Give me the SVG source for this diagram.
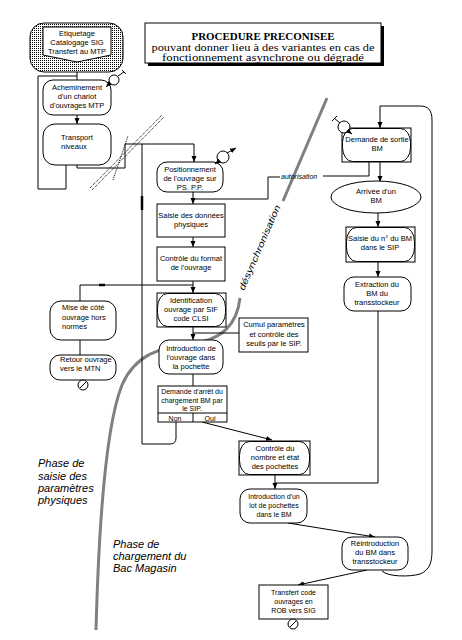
<svg xmlns="http://www.w3.org/2000/svg" width="462" height="640" viewBox="0 0 462 640">
<defs>
<style>
.n{fill:#fff;stroke:#000;stroke-width:1}
.o{fill:none;stroke:#000;stroke-width:1}
.c{fill:none;stroke:#000;stroke-width:1}
.t{font-family:"Liberation Sans",Arial,sans-serif;font-size:7.5px;text-anchor:middle;fill:#000}
.s{font-size:7px}
.l{text-anchor:start}
.ti{font-family:"Liberation Serif","Times New Roman",serif;font-size:9.5px;text-anchor:middle;fill:#000}
.ph{font-family:"Liberation Sans",Arial,sans-serif;font-size:11px;font-style:italic;fill:#000}
.h{fill:none;stroke:#808080;stroke-width:3}
.d{fill:none;stroke:#000;stroke-width:1;stroke-dasharray:1 1}
</style>
<pattern id="dot" width="2" height="2" patternUnits="userSpaceOnUse"><rect width="2" height="2" fill="#fff"/><rect width="1" height="1" fill="#000"/></pattern>
<marker id="a" markerWidth="6" markerHeight="6" refX="6" refY="3" orient="auto" markerUnits="userSpaceOnUse"><path d="M0,0.5 L6,3 L0,5.5 z" fill="#000"/></marker>
</defs>
<rect width="462" height="640" fill="#fff"/>

<!-- title -->
<g id="title">
<rect x="148" y="26" width="236" height="40" fill="#000"/>
<rect x="145" y="23" width="236" height="40" class="n"/>
<text class="ti" x="263" y="40" style="font-weight:bold" textLength="143" lengthAdjust="spacingAndGlyphs">PROCEDURE PRECONISEE</text>
<text class="ti" x="263" y="50.5" textLength="223" lengthAdjust="spacingAndGlyphs">pouvant donner lieu à des variantes en cas de</text>
<text class="ti" x="263" y="61" textLength="202" lengthAdjust="spacingAndGlyphs">fonctionnement asynchrone ou dégradé</text>
</g>

<!-- phase boundaries -->
<g id="phases">
<line x1="327" y1="98" x2="283" y2="201" class="h"/>
<text transform="translate(244,291) rotate(-66.5)" style="font-family:'Liberation Sans',Arial,sans-serif;font-size:9px;font-style:italic" textLength="92" lengthAdjust="spacingAndGlyphs">désynchronisation</text>
<path d="M240,298 C237,325 222,340 190,344 C160,347 135,355 122,385 C110,415 100,480 96,630" class="h"/>
<line x1="90" y1="188" x2="162" y2="115" class="d"/>
<line x1="92" y1="190" x2="164" y2="117" class="d"/>
<line x1="113" y1="180" x2="128" y2="136" class="d"/>
<text class="ph" x="38" y="467">Phase de</text>
<text class="ph" x="38" y="480">saisie des</text>
<text class="ph" x="38" y="492">paramètres</text>
<text class="ph" x="38" y="504">physiques</text>
<text class="ph" x="113" y="548">Phase de</text>
<text class="ph" x="113" y="560">chargement du</text>
<text class="ph" x="113" y="572">Bac Magasin</text>
</g>

<!-- connectors -->
<g id="connectors">
<path d="M77,62 V80" class="c"/>
<path d="M66,165 V189 H38 V76 H77" class="c"/>
<path d="M77,115 V124" class="c" marker-end="url(#a)"/>
<path d="M77,165 V168 H125 V144 H194 V162" class="c" marker-end="url(#a)"/>
<path d="M176,422 V438 Q176,444 170,444 H142 V144" class="c"/>
<line x1="142" y1="196" x2="142" y2="210" stroke="#000" stroke-width="2.5"/>
<path d="M193,192 V204" class="c" marker-end="url(#a)"/>
<path d="M369,162 V176 H323" class="c"/>
<path d="M280,177 H268 V199 H193" class="c"/>
<text x="281" y="179" style="font-family:'Liberation Sans',Arial,sans-serif;font-size:7px;font-style:italic">autorisation</text>
<path d="M193,237 V247" class="c" marker-end="url(#a)"/>
<path d="M193,281 V293" class="c" marker-end="url(#a)"/>
<path d="M193,285 H80 V301" class="c"/>
<line x1="99" y1="285" x2="105" y2="285" stroke="#000" stroke-width="2.5"/>
<path d="M80,340 V355" class="c"/>
<path d="M193,327 V340" class="c" marker-end="url(#a)"/>
<path d="M193,333 H239" class="c"/>
<path d="M193,374 V386" class="c"/>
<path d="M202,422 L272,440" class="c" marker-end="url(#a)"/>
<path d="M378,311 V483 H275" class="c"/>
<path d="M275,475 V489" class="c" marker-end="url(#a)"/>
<path d="M288,523 L375,537" class="c" marker-end="url(#a)"/>
<path d="M367,570 L298,585" class="c" marker-end="url(#a)"/>
<path d="M382,571 C388,577 410,577 420,574 C430,570 432,562 432,550 V120 C432,110 428,106 420,106 H380 V128" class="c" marker-end="url(#a)"/>
<path d="M380,162 V182" class="c" marker-end="url(#a)"/>
<path d="M378,213 V227" class="c" marker-end="url(#a)"/>
<path d="M378,262 V277" class="c" marker-end="url(#a)"/>
</g>

<!-- nodes -->
<g id="n-etiquetage">
<rect x="30" y="23" width="93" height="49" rx="14" fill="url(#dot)" stroke="#000"/>
<path d="M43,27 H111 V55 L77,62 L43,55 Z" class="n"/>
<text class="t" x="77" y="36">Etiquetage</text>
<text class="t" x="77" y="45">Catalogage  SIG</text>
<text class="t" x="77" y="53.5">Transfert au MTP</text>
</g>
<g id="n-acheminement">
<rect x="43" y="80" width="68" height="35" rx="10" class="n"/>
<text class="t" x="77" y="90">Acheminement</text>
<text class="t" x="77" y="99">d'un chariot</text>
<text class="t" x="77" y="108">d'ouvrages MTP</text>
<circle cx="114" cy="80" r="5" class="n"/>
<path d="M118,76 L124,72 M122,70 L126,74" class="c"/>
<path d="M110,83 L106,87" class="c" marker-end="url(#a)"/>
</g>
<g id="n-transport">
<rect x="43" y="124" width="68" height="41" rx="12" class="n"/>
<text class="t l" x="61" y="140">Transport</text>
<text class="t l" x="61" y="149">niveaux</text>
</g>
<g id="n-positionnement">
<rect x="157" y="162" width="66" height="30" rx="10" class="n"/>
<text class="t" x="190" y="172">Positionnement</text>
<text class="t" x="190" y="181">de l'ouvrage sur</text>
<text class="t" x="190" y="190">PS. P.P.</text>
<circle cx="223" cy="157" r="6" class="n"/>
<path d="M227,153 L236,148" class="c" marker-end="url(#a)"/>
<path d="M219,161 L215,164" class="c" marker-end="url(#a)"/>
</g>
<g id="n-saisie">
<rect x="157" y="204" width="68" height="33" class="n"/>
<text class="t" x="191" y="218">Saisie des données</text>
<text class="t" x="191" y="227">physiques</text>
</g>
<g id="n-controle-format">
<rect x="157" y="247" width="68" height="34" class="n"/>
<text class="t" x="191" y="261">Contrôle du format</text>
<text class="t" x="191" y="270">de l'ouvrage</text>
</g>
<g id="n-mise">
<rect x="50" y="301" width="66" height="39" rx="11" class="n"/>
<text class="t l" x="62" y="310">Mise de côté</text>
<text class="t l" x="62" y="320">ouvrage hors</text>
<text class="t l" x="62" y="329">normes</text>
</g>
<g id="n-retour">
<rect x="50" y="355" width="66" height="25" rx="10" class="n"/>
<text class="t l" x="60" y="362">Retour ouvrage</text>
<text class="t l" x="60" y="371">vers le MTN</text>
<circle cx="83" cy="385" r="5" class="n"/>
<line x1="80" y1="388" x2="86" y2="382" class="c"/>
</g>
<g id="n-identification">
<rect x="157" y="293" width="69" height="34" class="n"/>
<rect x="157.5" y="293.5" width="68" height="33" rx="10" ry="14" class="o"/>
<text class="t" x="191" y="303">Identification</text>
<text class="t" x="191" y="312">ouvrage par SIF</text>
<text class="t" x="191" y="321">code CLSI</text>
</g>
<g id="n-cumul">
<rect x="239" y="318" width="69" height="34" class="n"/>
<text class="t" x="274" y="327">Cumul paramètres</text>
<text class="t" x="274" y="337">et contrôle des</text>
<text class="t" x="274" y="346">seuils par le SIP.</text>
</g>
<g id="n-introduction">
<rect x="159" y="340" width="64" height="34" rx="10" class="n"/>
<text class="t" x="191" y="351">Introduction de</text>
<text class="t" x="191" y="360">l'ouvrage dans</text>
<text class="t" x="191" y="369">la pochette</text>
</g>
<g id="n-demande-arret">
<rect x="158" y="386" width="69" height="36" class="n"/>
<line x1="158" y1="413" x2="227" y2="413" class="c"/>
<line x1="193" y1="413" x2="193" y2="422" class="c"/>
<text class="t s" x="192" y="394">Demande d'arrêt du</text>
<text class="t s" x="192" y="402.5">chargement BM par</text>
<text class="t s" x="192" y="411">le SIP.</text>
<text class="t s" x="175" y="420.5">Non</text>
<text class="t s" x="210" y="420.5">Oui</text>
</g>
<g id="n-controle-nombre">
<rect x="239" y="441" width="71" height="34" class="n"/>
<rect x="239.5" y="441.5" width="70" height="33" rx="10" ry="14" class="o"/>
<text class="t" x="275" y="451">Contrôle du</text>
<text class="t" x="275" y="460">nombre et état</text>
<text class="t" x="275" y="469">des pochettes</text>
</g>
<g id="n-introduction-lot">
<rect x="240" y="489" width="67" height="34" rx="10" class="n"/>
<text class="t s" x="274" y="499">Introduction d'un</text>
<text class="t s" x="274" y="508">lot de pochettes</text>
<text class="t s" x="274" y="517">dans le BM</text>
</g>
<g id="n-reintroduction">
<rect x="342" y="537" width="66" height="33" rx="10" class="n"/>
<text class="t" x="375" y="546">Réintroduction</text>
<text class="t" x="375" y="555">du BM dans</text>
<text class="t" x="375" y="564">transstockeur</text>
</g>
<g id="n-transfert">
<rect x="259" y="585" width="69" height="34" class="n"/>
<text class="t s" x="293.5" y="595">Transfert code</text>
<text class="t s" x="293.5" y="604">ouvrages en</text>
<text class="t s" x="293.5" y="613">ROB vers SIG</text>
<circle cx="293" cy="624" r="5" class="n"/>
<line x1="290" y1="627" x2="296" y2="621" class="c"/>
</g>
<g id="n-demande-sortie">
<rect x="342" y="128" width="69" height="34" class="n"/>
<rect x="342.5" y="128.5" width="68" height="33" rx="10" ry="14" class="o"/>
<text class="t" x="377" y="142">Demande de sortie</text>
<text class="t" x="377" y="151">BM</text>
<circle cx="344" cy="127" r="6" class="n"/>
<path d="M340,123 L334,118 M332,121 L337,116" class="c"/>
<path d="M348,131 L352,134" class="c" marker-end="url(#a)"/>
</g>
<g id="n-arrivee">
<ellipse cx="376" cy="197" rx="45" ry="16" class="n"/>
<text class="t" x="376" y="194">Arrivée d'un</text>
<text class="t" x="376" y="203">BM</text>
</g>
<g id="n-saisie-bm">
<rect x="346" y="227" width="69" height="35" class="n"/>
<rect x="346.5" y="227.5" width="68" height="34" rx="10" ry="14" class="o"/>
<text class="t" x="380" y="241">Saisie du n° du BM</text>
<text class="t" x="380" y="250">dans le SIP</text>
</g>
<g id="n-extraction">
<rect x="344" y="277" width="67" height="34" rx="10" class="n"/>
<text class="t" x="377" y="287">Extraction du</text>
<text class="t" x="377" y="296">BM du</text>
<text class="t" x="377" y="305">transstockeur</text>
</g>
</svg>
